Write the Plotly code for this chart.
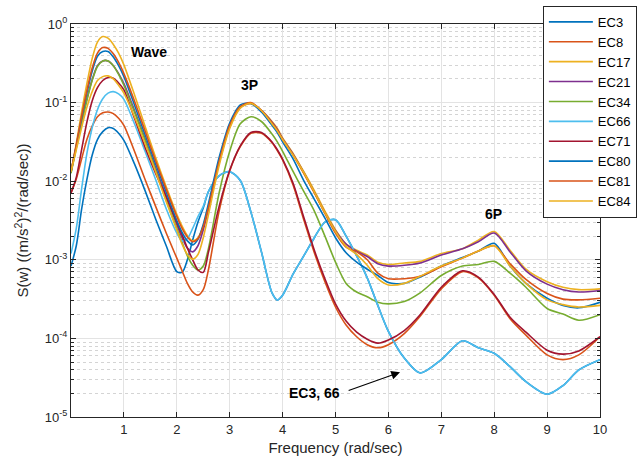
import plotly.graph_objects as go

# Frequency grid (rad/sec)
freq = [0, 0.1, 0.2, 0.3, 0.4, 0.5, 0.6, 0.7, 0.8, 0.9, 1.0, 1.2, 1.4, 1.6, 1.8, 2.0,
        2.1, 2.2, 2.3, 2.4, 2.5, 2.6, 2.8, 3.0, 3.2, 3.4, 3.6, 3.8, 3.9, 4.0, 4.2, 4.4,
        4.6, 4.8, 5.0, 5.2, 5.4, 5.6, 5.8, 6.0, 6.3, 6.6, 7.0, 7.4, 7.7, 8.0, 8.3, 8.6,
        9.0, 9.3, 9.6, 10.0]

ec3 = [8.32e-4, 1.51e-3, 4.37e-3, 1.05e-2, 2.14e-2, 3.39e-2, 4.27e-2, 4.79e-2, 4.68e-2, 4.07e-2,
       3.31e-2, 1.66e-2, 7.59e-3, 3.31e-3, 1.51e-3, 7.08e-4, 6.92e-4, 1.00e-3, 1.78e-3, 3.02e-3,
       4.57e-3, 7.41e-3, 1.17e-2, 1.32e-2, 1.02e-2, 4.07e-3, 1.26e-3, 3.80e-4, 3.09e-4, 3.55e-4,
       6.61e-4, 1.12e-3, 1.91e-3, 3.02e-3, 3.24e-3, 2.00e-3, 1.12e-3, 5.89e-4, 2.63e-4, 1.23e-4,
       5.62e-5, 3.63e-5, 5.37e-5, 9.33e-5, 7.59e-5, 6.46e-5, 4.37e-5, 2.82e-5, 1.95e-5, 2.51e-5,
       3.98e-5, 5.37e-5]
ec8 = [7.08e-3, 1.07e-2, 1.91e-2, 3.39e-2, 5.01e-2, 6.61e-2, 7.41e-2, 7.59e-2, 7.24e-2, 6.31e-2,
       5.13e-2, 2.40e-2, 1.05e-2, 4.79e-3, 2.19e-3, 1.05e-3, 7.24e-4, 5.01e-4, 3.89e-4, 3.55e-4,
       4.17e-4, 7.59e-4, 4.17e-3, 1.35e-2, 2.75e-2, 4.07e-2, 4.07e-2, 3.09e-2, 2.45e-2, 1.86e-2,
       8.91e-3, 3.24e-3, 1.23e-3, 5.25e-4, 2.51e-4, 1.48e-4, 1.05e-4, 8.32e-5, 7.59e-5, 8.32e-5,
       1.15e-4, 1.91e-4, 4.27e-4, 7.08e-4, 5.89e-4, 3.55e-4, 1.78e-4, 1.10e-4, 6.17e-5, 5.37e-5,
       6.17e-5, 1.05e-4]
ec17 = [1.29e-2, 3.02e-2, 7.59e-2, 1.74e-1, 3.63e-1, 5.89e-1, 6.92e-1, 6.61e-1, 5.50e-1, 4.27e-1,
        3.02e-1, 1.26e-1, 5.01e-2, 2.00e-2, 8.51e-3, 3.80e-3, 2.69e-3, 2.04e-3, 1.74e-3, 1.91e-3,
        2.69e-3, 4.79e-3, 1.74e-2, 5.01e-2, 8.71e-2, 9.77e-2, 7.94e-2, 5.75e-2, 4.68e-2, 3.55e-2,
        2.24e-2, 1.32e-2, 7.59e-3, 4.17e-3, 2.40e-3, 1.58e-3, 1.32e-3, 1.15e-3, 9.33e-4, 8.71e-4,
        9.12e-4, 9.55e-4, 1.20e-3, 1.38e-3, 1.78e-3, 2.29e-3, 1.32e-3, 7.59e-4, 5.25e-4, 4.47e-4,
        4.17e-4, 4.27e-4]
ec21 = [1.32e-2, 2.75e-2, 5.62e-2, 1.10e-1, 1.95e-1, 2.95e-1, 3.39e-1, 3.39e-1, 2.95e-1, 2.34e-1,
        1.74e-1, 7.94e-2, 3.47e-2, 1.48e-2, 6.46e-3, 2.82e-3, 1.91e-3, 1.41e-3, 1.26e-3, 1.51e-3,
        2.40e-3, 4.47e-3, 1.70e-2, 4.90e-2, 8.71e-2, 9.77e-2, 7.94e-2, 5.62e-2, 4.57e-2, 3.47e-2,
        2.19e-2, 1.29e-2, 7.24e-3, 3.98e-3, 2.34e-3, 1.58e-3, 1.29e-3, 1.10e-3, 8.91e-4, 8.32e-4,
        8.51e-4, 9.12e-4, 1.15e-3, 1.38e-3, 1.70e-3, 2.19e-3, 1.26e-3, 7.24e-4, 4.90e-4, 4.17e-4,
        3.89e-4, 4.07e-4]
ec34 = [1.26e-2, 2.63e-2, 5.50e-2, 1.07e-1, 1.91e-1, 2.88e-1, 3.39e-1, 3.39e-1, 2.95e-1, 2.29e-1,
        1.66e-1, 7.59e-2, 3.31e-2, 1.38e-2, 5.75e-3, 2.51e-3, 1.66e-3, 1.12e-3, 8.51e-4, 7.41e-4,
        8.32e-4, 1.41e-3, 7.08e-3, 2.40e-2, 5.37e-2, 6.61e-2, 5.75e-2, 3.98e-2, 3.16e-2, 2.40e-2,
        1.32e-2, 7.41e-3, 4.17e-3, 2.00e-3, 9.33e-4, 5.01e-4, 3.89e-4, 3.39e-4, 2.88e-4, 2.75e-4,
        2.95e-4, 3.80e-4, 6.31e-4, 8.32e-4, 8.71e-4, 9.55e-4, 6.76e-4, 4.47e-4, 2.40e-4, 2.04e-4,
        1.70e-4, 2.00e-4]
ec66 = [1.20e-3, 2.51e-3, 7.94e-3, 2.24e-2, 4.79e-2, 8.13e-2, 1.12e-1, 1.32e-1, 1.38e-1, 1.29e-1,
        1.10e-1, 5.37e-2, 2.40e-2, 1.05e-2, 4.47e-3, 2.19e-3, 1.74e-3, 1.86e-3, 2.51e-3, 3.55e-3,
        4.79e-3, 7.41e-3, 1.17e-2, 1.32e-2, 1.02e-2, 4.07e-3, 1.26e-3, 3.80e-4, 3.09e-4, 3.55e-4,
        6.61e-4, 1.12e-3, 1.91e-3, 3.02e-3, 3.24e-3, 2.00e-3, 1.12e-3, 5.89e-4, 2.63e-4, 1.23e-4,
        5.62e-5, 3.63e-5, 5.37e-5, 9.33e-5, 7.59e-5, 6.46e-5, 4.37e-5, 2.82e-5, 1.95e-5, 2.51e-5,
        3.98e-5, 5.37e-5]
ec71 = [7.08e-3, 1.12e-2, 2.51e-2, 5.62e-2, 1.05e-1, 1.55e-1, 1.91e-1, 2.09e-1, 2.04e-1, 1.78e-1,
        1.45e-1, 6.31e-2, 2.69e-2, 1.26e-2, 6.31e-3, 3.02e-3, 2.09e-3, 1.41e-3, 1.00e-3, 7.41e-4,
        6.92e-4, 1.26e-3, 4.79e-3, 1.38e-2, 2.82e-2, 4.17e-2, 4.17e-2, 3.16e-2, 2.51e-2, 1.91e-2,
        9.33e-3, 3.47e-3, 1.32e-3, 5.75e-4, 2.75e-4, 1.66e-4, 1.20e-4, 9.77e-5, 8.71e-5, 9.55e-5,
        1.26e-4, 2.00e-4, 4.47e-4, 7.24e-4, 6.03e-4, 3.63e-4, 1.86e-4, 1.20e-4, 7.08e-5, 6.31e-5,
        6.92e-5, 1.05e-4]
ec80 = [1.32e-2, 2.82e-2, 6.31e-2, 1.32e-1, 2.51e-1, 3.89e-1, 4.47e-1, 4.47e-1, 3.80e-1, 2.95e-1,
        2.14e-1, 9.33e-2, 3.89e-2, 1.66e-2, 7.24e-3, 3.16e-3, 2.24e-3, 1.74e-3, 1.55e-3, 1.82e-3,
        2.82e-3, 5.25e-3, 2.00e-2, 5.50e-2, 9.33e-2, 9.77e-2, 7.59e-2, 5.13e-2, 4.17e-2, 3.16e-2,
        1.91e-2, 1.02e-2, 5.89e-3, 3.39e-3, 1.91e-3, 1.23e-3, 9.33e-4, 7.59e-4, 6.31e-4, 5.13e-4,
        5.01e-4, 6.03e-4, 8.32e-4, 1.07e-3, 1.29e-3, 1.62e-3, 8.32e-4, 5.01e-4, 3.24e-4, 2.63e-4,
        2.45e-4, 2.88e-4]
ec81 = [1.32e-2, 2.88e-2, 6.61e-2, 1.41e-1, 2.75e-1, 4.27e-1, 5.01e-1, 4.90e-1, 4.17e-1, 3.24e-1,
        2.34e-1, 1.05e-1, 4.37e-2, 1.82e-2, 7.94e-3, 3.55e-3, 2.51e-3, 1.95e-3, 1.70e-3, 1.86e-3,
        2.63e-3, 4.68e-3, 1.78e-2, 5.13e-2, 8.91e-2, 1.00e-1, 7.94e-2, 5.50e-2, 4.47e-2, 3.39e-2,
        2.14e-2, 1.26e-2, 7.08e-3, 3.89e-3, 2.19e-3, 1.45e-3, 1.26e-3, 1.00e-3, 6.76e-4, 5.75e-4,
        5.75e-4, 6.17e-4, 8.13e-4, 1.05e-3, 1.29e-3, 1.51e-3, 8.91e-4, 5.62e-4, 3.72e-4, 3.16e-4,
        3.09e-4, 3.24e-4]
ec84 = [1.32e-2, 2.51e-2, 4.79e-2, 8.71e-2, 1.38e-1, 1.91e-1, 2.14e-1, 2.19e-1, 2.00e-1, 1.66e-1,
        1.32e-1, 6.61e-2, 3.02e-2, 1.32e-2, 5.50e-3, 2.40e-3, 1.58e-3, 1.17e-3, 1.02e-3, 1.17e-3,
        1.91e-3, 3.80e-3, 1.58e-2, 4.68e-2, 8.51e-2, 9.77e-2, 7.94e-2, 5.37e-2, 4.37e-2, 3.39e-2,
        2.14e-2, 1.29e-2, 7.24e-3, 3.98e-3, 2.29e-3, 1.48e-3, 1.17e-3, 8.51e-4, 5.75e-4, 4.79e-4,
        5.01e-4, 6.17e-4, 8.32e-4, 1.05e-3, 1.29e-3, 1.51e-3, 8.32e-4, 5.01e-4, 3.09e-4, 2.69e-4,
        2.51e-4, 2.63e-4]

series_names = ["EC3", "EC8", "EC17", "EC21", "EC34", "EC66", "EC71", "EC80", "EC81", "EC84"]
series_values = [ec3, ec8, ec17, ec21, ec34, ec66, ec71, ec80, ec81, ec84]
colors = ["#0072BD", "#D95319", "#EDB120", "#7E2F8E", "#77AC30",
          "#4DBEEE", "#A2142F", "#0072BD", "#D95319", "#EDB120"]

x_ticks = [1, 2, 3, 4, 5, 6, 7, 8, 9, 10]
y_ticks = [1e-5, 1e-4, 1e-3, 1e-2, 1e-1, 1e0]
y_ticktext = ["10<sup>-5</sup>", "10<sup>-4</sup>", "10<sup>-3</sup>",
              "10<sup>-2</sup>", "10<sup>-1</sup>", "10<sup>0</sup>"]
y_minor = [m * 10.0 ** e for e in range(-5, 0) for m in range(2, 10)]

FONT = "Liberation Sans, Arial, Helvetica, sans-serif"
AX = "#262626"

fig = go.Figure()
for name, vals, col in zip(series_names, series_values, colors):
    fig.add_trace(go.Scatter(
        x=freq, y=vals, name=name, mode="lines",
        line=dict(color=col, width=1.6, shape="spline", smoothing=0.8),
    ))

fig.update_layout(
    width=642, height=469,
    margin=dict(l=71, r=42, t=24, b=52, autoexpand=False),
    paper_bgcolor="white", plot_bgcolor="white",
    font=dict(family=FONT, size=13, color=AX),
    showlegend=True,
    legend=dict(
        x=0.892, y=1.046, xanchor="left", yanchor="top",
        bgcolor="white", bordercolor=AX, borderwidth=1,
        font=dict(family=FONT, size=13, color="#000000"),
        tracegroupgap=0, itemwidth=44,
    ),
)

fig.update_xaxes(
    range=[0, 10], tickmode="array", tickvals=x_ticks,
    ticks="inside", ticklen=5, tickcolor=AX, tickwidth=1,
    showline=True, linecolor=AX, linewidth=1, mirror="ticks",
    showgrid=True, gridcolor="#e3e3e3", gridwidth=1, zeroline=False,
    title=dict(text="Frequency (rad/sec)", font=dict(family=FONT, size=15, color=AX), standoff=6),
    tickfont=dict(family=FONT, size=13, color=AX),
)
fig.update_yaxes(
    type="log", range=[-5, 0], tickmode="array", tickvals=y_ticks, ticktext=y_ticktext,
    ticks="inside", ticklen=5, tickcolor=AX, tickwidth=1,
    showline=True, linecolor=AX, linewidth=1, mirror="ticks",
    showgrid=True, gridcolor="#e3e3e3", gridwidth=1, zeroline=False,
    minor=dict(tickmode="array", tickvals=y_minor, ticks="inside", ticklen=3,
               tickcolor=AX, showgrid=True, gridcolor="#d4d4d4", griddash="dot", gridwidth=1),
    title=dict(text="S(w) ((m/s<sup>2</sup>)<sup>2</sup>/(rad/sec))",
               font=dict(family=FONT, size=15, color=AX), standoff=12),
    tickfont=dict(family=FONT, size=13, color=AX),
)

bold = dict(family=FONT, size=14, color="#000000")
fig.add_annotation(x=1.47, y=-0.35, xref="x", yref="y", text="<b>Wave</b>", showarrow=False, font=bold)
fig.add_annotation(x=3.38, y=-0.78, xref="x", yref="y", text="<b>3P</b>", showarrow=False, font=bold)
fig.add_annotation(x=7.98, y=-2.42, xref="x", yref="y", text="<b>6P</b>", showarrow=False, font=bold)
fig.add_annotation(x=4.61, y=-4.70, xref="x", yref="y", text="<b>EC3, 66</b>", showarrow=False, font=bold)
fig.add_annotation(x=6.22, y=-4.43, xref="x", yref="y", ax=5.22, ay=-4.67, axref="x", ayref="y",
                   text="", showarrow=True, arrowhead=2, arrowsize=1.6, arrowwidth=1.1,
                   arrowcolor="#000000")

fig.write_html("out.html", config={"displayModeBar": False},
               post_script="document.body.style.margin='0';document.body.style.overflow='hidden';")
